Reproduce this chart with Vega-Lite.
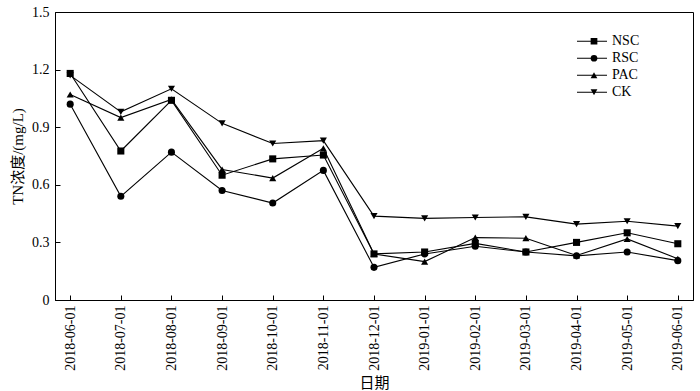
{
  "$schema": "https://vega.github.io/schema/vega-lite/v6.json",
  "width": 638,
  "height": 288,
  "autosize": "none",
  "padding": {"left": 55, "top": 12, "right": 7, "bottom": 91},
  "background": "white",
  "config": {
    "view": {"stroke": "black", "strokeWidth": 1},
    "font": "Liberation Serif, Noto Sans CJK SC",
    "axis": {
      "domainColor": "black",
      "tickColor": "black",
      "labelColor": "black",
      "titleColor": "black",
      "labelFont": "Liberation Serif",
      "titleFont": "Liberation Serif, Noto Sans CJK SC",
      "labelFontSize": 14,
      "titleFontSize": 15,
      "titleFontWeight": "normal",
      "grid": false,
      "tickSize": -5
    },
    "legend": {
      "labelFont": "Liberation Serif",
      "labelFontSize": 14,
      "labelColor": "black"
    }
  },
  "data": {
    "values": [
      {"date": "2018-06-01", "series": "NSC", "value": 1.18},
      {"date": "2018-07-01", "series": "NSC", "value": 0.776},
      {"date": "2018-08-01", "series": "NSC", "value": 1.04},
      {"date": "2018-09-01", "series": "NSC", "value": 0.65},
      {"date": "2018-10-01", "series": "NSC", "value": 0.735},
      {"date": "2018-11-01", "series": "NSC", "value": 0.755},
      {"date": "2018-12-01", "series": "NSC", "value": 0.24},
      {"date": "2019-01-01", "series": "NSC", "value": 0.25},
      {"date": "2019-02-01", "series": "NSC", "value": 0.295},
      {"date": "2019-03-01", "series": "NSC", "value": 0.25},
      {"date": "2019-04-01", "series": "NSC", "value": 0.30},
      {"date": "2019-05-01", "series": "NSC", "value": 0.35},
      {"date": "2019-06-01", "series": "NSC", "value": 0.293},

      {"date": "2018-06-01", "series": "RSC", "value": 1.02},
      {"date": "2018-07-01", "series": "RSC", "value": 0.54},
      {"date": "2018-08-01", "series": "RSC", "value": 0.77},
      {"date": "2018-09-01", "series": "RSC", "value": 0.57},
      {"date": "2018-10-01", "series": "RSC", "value": 0.505},
      {"date": "2018-11-01", "series": "RSC", "value": 0.675},
      {"date": "2018-12-01", "series": "RSC", "value": 0.17},
      {"date": "2019-01-01", "series": "RSC", "value": 0.24},
      {"date": "2019-02-01", "series": "RSC", "value": 0.28},
      {"date": "2019-03-01", "series": "RSC", "value": 0.25},
      {"date": "2019-04-01", "series": "RSC", "value": 0.23},
      {"date": "2019-05-01", "series": "RSC", "value": 0.25},
      {"date": "2019-06-01", "series": "RSC", "value": 0.205},

      {"date": "2018-06-01", "series": "PAC", "value": 1.07},
      {"date": "2018-07-01", "series": "PAC", "value": 0.95},
      {"date": "2018-08-01", "series": "PAC", "value": 1.045},
      {"date": "2018-09-01", "series": "PAC", "value": 0.68},
      {"date": "2018-10-01", "series": "PAC", "value": 0.635},
      {"date": "2018-11-01", "series": "PAC", "value": 0.79},
      {"date": "2018-12-01", "series": "PAC", "value": 0.24},
      {"date": "2019-01-01", "series": "PAC", "value": 0.20},
      {"date": "2019-02-01", "series": "PAC", "value": 0.325},
      {"date": "2019-03-01", "series": "PAC", "value": 0.322},
      {"date": "2019-04-01", "series": "PAC", "value": 0.232},
      {"date": "2019-05-01", "series": "PAC", "value": 0.318},
      {"date": "2019-06-01", "series": "PAC", "value": 0.215},

      {"date": "2018-06-01", "series": "CK", "value": 1.17},
      {"date": "2018-07-01", "series": "CK", "value": 0.98},
      {"date": "2018-08-01", "series": "CK", "value": 1.10},
      {"date": "2018-09-01", "series": "CK", "value": 0.92},
      {"date": "2018-10-01", "series": "CK", "value": 0.815},
      {"date": "2018-11-01", "series": "CK", "value": 0.83},
      {"date": "2018-12-01", "series": "CK", "value": 0.437},
      {"date": "2019-01-01", "series": "CK", "value": 0.425},
      {"date": "2019-02-01", "series": "CK", "value": 0.43},
      {"date": "2019-03-01", "series": "CK", "value": 0.433},
      {"date": "2019-04-01", "series": "CK", "value": 0.395},
      {"date": "2019-05-01", "series": "CK", "value": 0.41},
      {"date": "2019-06-01", "series": "CK", "value": 0.385}
    ]
  },
  "encoding": {
    "x": {
      "field": "date",
      "type": "ordinal",
      "scale": {"type": "point", "padding": 0.3},
      "axis": {
        "title": "日期",
        "labelAngle": -90,
        "labelPadding": 10,
        "titlePadding": 5
      }
    },
    "y": {
      "field": "value",
      "type": "quantitative",
      "scale": {"domain": [0, 1.5], "nice": false},
      "axis": {
        "title": "TN浓度/(mg/L)",
        "values": [0, 0.3, 0.6, 0.9, 1.2, 1.5],
        "labelExpr": "datum.value == 0 ? '0' : format(datum.value, '.1f')",
        "labelPadding": 11,
        "titlePadding": 6
      }
    }
  },
  "layer": [
    {
      "mark": {"type": "line", "strokeWidth": 1.1},
      "encoding": {
        "color": {
          "field": "series",
          "type": "nominal",
          "sort": ["NSC", "RSC", "PAC", "CK"],
          "scale": {"range": ["black", "black", "black", "black"]},
          "legend": {
            "title": null,
            "orient": "none",
            "legendX": 521,
            "legendY": 21,
            "symbolType": "stroke",
            "symbolSize": 900,
            "symbolStrokeWidth": 1.1,
            "clipHeight": 16.5,
            "rowPadding": 0,
            "labelOffset": 4
          }
        }
      }
    },
    {
      "mark": {"type": "point", "filled": true, "color": "black", "opacity": 1, "size": 50},
      "encoding": {
        "shape": {
          "field": "series",
          "type": "nominal",
          "scale": {
            "domain": ["NSC", "RSC", "PAC", "CK"],
            "range": ["square", "circle", "triangle-up", "triangle-down"]
          },
          "legend": {
            "title": null,
            "orient": "none",
            "legendX": 532,
            "legendY": 21,
            "symbolSize": 45,
            "symbolFillColor": "black",
            "symbolStrokeColor": "black",
            "symbolStrokeWidth": 0,
            "symbolOpacity": 1,
            "clipHeight": 16.5,
            "rowPadding": 0,
            "labelExpr": "''"
          }
        }
      }
    }
  ]
}
